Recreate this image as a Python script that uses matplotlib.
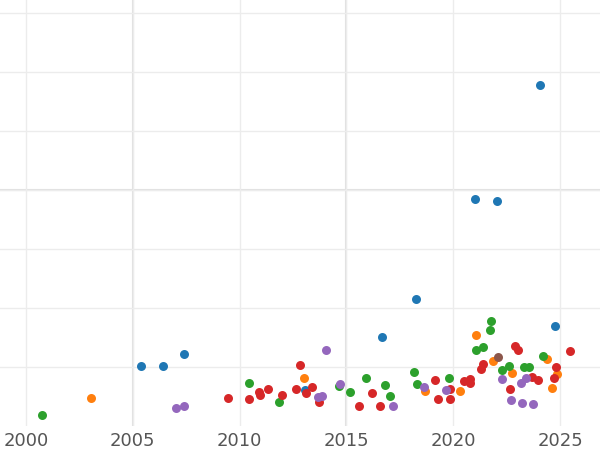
import matplotlib
matplotlib.use("Agg")
import matplotlib.pyplot as plt

# data (year, value)
blue_x = [2005.38, 2006.41, 2007.40, 2013.06, 2016.67, 2018.26, 2021.02, 2022.05, 2024.07, 2024.77]
blue_y = [1.02, 1.02, 1.22, 0.61, 1.51, 2.15, 3.85, 3.81, 5.78, 1.69]

orange_x = [2003.04, 2013.01, 2018.68, 2020.32, 2021.07, 2021.86, 2022.75, 2024.39, 2024.63, 2024.86]
orange_y = [0.47, 0.81, 0.59, 0.59, 1.54, 1.10, 0.90, 1.14, 0.64, 0.88]

green_x = [2000.75, 2010.44, 2011.84, 2014.65, 2015.17, 2015.92, 2016.81, 2017.04, 2018.16, 2018.30,
           2019.80, 2021.07, 2021.39, 2021.72, 2021.77, 2022.28, 2022.61, 2023.31, 2023.55, 2024.20]
green_y = [0.19, 0.73, 0.41, 0.68, 0.58, 0.81, 0.69, 0.51, 0.92, 0.71,
           0.81, 1.29, 1.34, 1.63, 1.78, 0.95, 1.02, 1.00, 1.00, 1.19]

red_x = [2009.46, 2010.44, 2010.91, 2010.95, 2011.33, 2011.99, 2012.64, 2012.83, 2013.11, 2013.39,
         2013.72, 2015.59, 2016.20, 2016.57, 2019.15, 2019.29, 2019.85, 2019.85, 2020.51, 2020.79,
         2020.79, 2021.30, 2021.39, 2022.66, 2022.89, 2023.03, 2023.69, 2023.97, 2024.72, 2024.82, 2025.47]
red_y = [0.47, 0.46, 0.58, 0.53, 0.63, 0.53, 0.63, 1.03, 0.56, 0.66,
         0.41, 0.34, 0.56, 0.34, 0.78, 0.46, 0.63, 0.46, 0.76, 0.73,
         0.80, 0.97, 1.05, 0.63, 1.36, 1.29, 0.83, 0.78, 0.81, 1.00, 1.27]

purple_x = [2007.02, 2007.40, 2013.67, 2013.86, 2014.04, 2014.70, 2017.18, 2018.63, 2019.66, 2022.28,
            2022.71, 2023.17, 2023.22, 2023.41, 2023.74]
purple_y = [0.31, 0.34, 0.49, 0.51, 1.29, 0.71, 0.34, 0.66, 0.61, 0.80,
            0.44, 0.73, 0.39, 0.81, 0.37]

brown_x = [2022.10]
brown_y = [1.17]

series = [
    (blue_x, blue_y, "#1f77b4"),
    (orange_x, orange_y, "#ff7f0e"),
    (green_x, green_y, "#2ca02c"),
    (red_x, red_y, "#d62728"),
    (purple_x, purple_y, "#9467bd"),
    (brown_x, brown_y, "#8c564b"),
]

fig = plt.figure(figsize=(6, 4.5), dpi=100)
ax = fig.add_axes([0, 0.0533, 1, 0.9467])

for xs, ys, c in series:
    ax.scatter(xs, ys, s=42, color=c, zorder=3, linewidths=0)

ax.set_xlim(1998.78, 2026.87)
ax.set_ylim(0, 7.22)
ax.set_xticks([2000, 2005, 2010, 2015, 2020, 2025])
ax.set_yticks(range(1, 8))
ax.grid(True, color="#ececec", linewidth=1, zorder=0)
# a few lines are a bit darker in the reference
for xv in [2005, 2015]:
    ax.axvline(xv, color="#e0e0e0", linewidth=1.5, zorder=0)
ax.axhline(4, color="#e0e0e0", linewidth=1.5, zorder=0)

for s in ax.spines.values():
    s.set_visible(False)
ax.tick_params(axis="y", length=0, labelleft=False)
ax.tick_params(axis="x", length=0, labelsize=13, labelcolor="#555555", pad=4)

fig.savefig("out.png")
